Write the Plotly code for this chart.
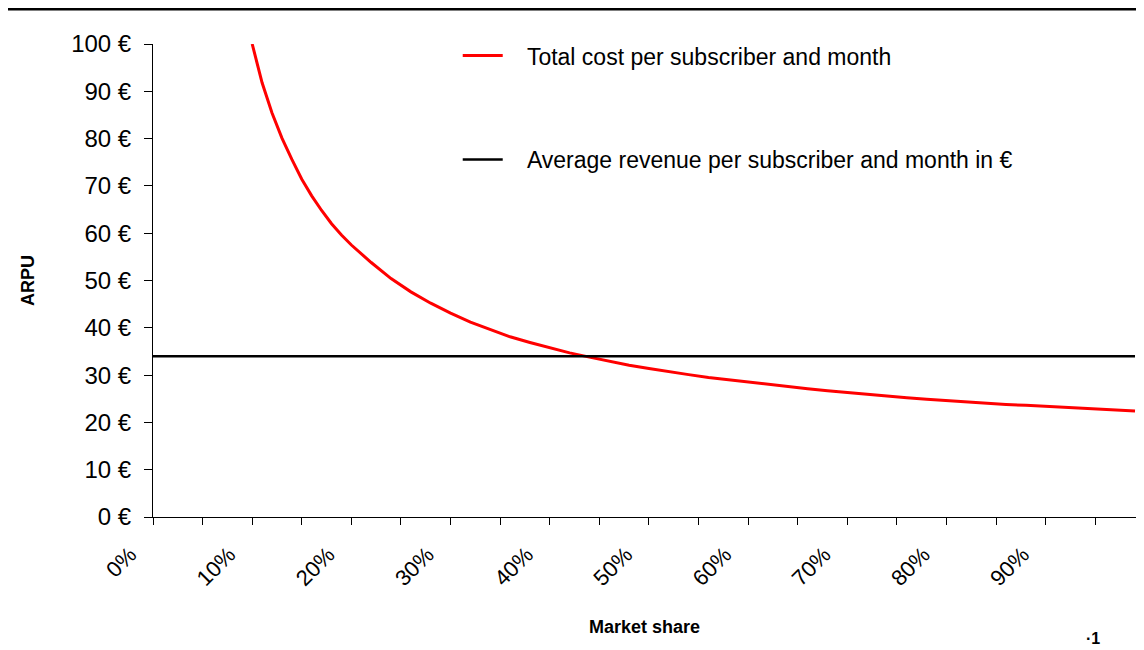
import plotly.graph_objects as go

# market share in %, cost per subscriber and month in EUR
share = [10, 11, 12, 13, 14, 15, 16, 17, 18, 19, 20, 22, 24, 26, 28, 30, 32, 34, 36, 38,
         40, 42, 44, 46, 48, 50, 52, 54, 56, 58, 60, 62, 64, 66, 68, 70, 72, 74, 76, 78,
         80, 82, 84, 86, 88, 90, 92, 94, 96, 98, 99]
cost = [100.0, 91.8, 85.4, 80.1, 75.6, 71.4, 67.9, 64.8, 62.0, 59.6, 57.5, 53.8, 50.4, 47.6,
        45.2, 43.1, 41.2, 39.6, 38.1, 36.9, 35.8, 34.7, 33.8, 32.9, 32.1, 31.4, 30.7, 30.1,
        29.5, 29.0, 28.5, 28.0, 27.6, 27.1, 26.7, 26.3, 25.9, 25.6, 25.2, 24.9, 24.6, 24.3,
        24.1, 23.8, 23.6, 23.4, 23.2, 23.0, 22.8, 22.5, 22.4]

arpu_share = [0, 99]
arpu = [34.0, 34.0]

x_ticks = [0, 10, 20, 30, 40, 50, 60, 70, 80, 90]
x_labels = ["0%", "10%", "20%", "30%", "40%", "50%", "60%", "70%", "80%", "90%"]
y_ticks = [0, 10, 20, 30, 40, 50, 60, 70, 80, 90, 100]
y_labels = ["0 €", "10 €", "20 €", "30 €", "40 €", "50 €", "60 €", "70 €", "80 €", "90 €", "100 €"]

font = "Liberation Sans, Arial, sans-serif"
gap = "\u00a0\u00a0\u00a0"  # wider space between legend line and text

fig = go.Figure()
fig.add_trace(go.Scatter(
    x=share, y=cost, mode="lines", name=gap + "Total cost per subscriber and month",
    line=dict(color="#ff0000", width=3), legendgroup="a"
))
fig.add_trace(go.Scatter(
    x=arpu_share, y=arpu, mode="lines", name=gap + "Average revenue per subscriber and month in €",
    line=dict(color="#000000", width=2.5), legendgroup="b"
))

# the page body adds an 8px offset, margins below make up for it
fig.update_layout(
    width=1144, height=650,
    margin=dict(l=145, r=16, t=36, b=141, autoexpand=False),
    paper_bgcolor="white", plot_bgcolor="white",
    font=dict(family=font, color="black"),
    showlegend=True,
    legend=dict(
        x=0.31, y=1.021, xanchor="left", yanchor="top",
        font=dict(size=23, family=font), tracegroupgap=71,
        bgcolor="rgba(0,0,0,0)", itemwidth=40
    ),
    xaxis=dict(
        range=[0, 99.1], tickvals=x_ticks, ticktext=x_labels,
        tickangle=-45, tickfont=dict(size=22),
        ticks="outside", ticklen=7, tickcolor="black",
        minor=dict(tickvals=list(range(0, 100, 5)), ticks="outside", ticklen=7, tickcolor="black"),
        ticklabelshift=-23, ticklabelstandoff=8,
        showline=True, linecolor="black", linewidth=1,
        showgrid=False, zeroline=False, automargin=False,
        title=dict(text="<b>Market share</b>", font=dict(size=18), standoff=30)
    ),
    yaxis=dict(
        range=[0, 100], tickvals=y_ticks, ticktext=y_labels,
        tickfont=dict(size=24), ticklabelstandoff=8,
        ticks="outside", ticklen=8, tickcolor="black",
        showline=True, linecolor="black", linewidth=1,
        showgrid=False, zeroline=False, automargin=False,
        title=dict(text="<b>ARPU</b>", font=dict(size=18), standoff=31)
    ),
)

# slide rule at the top
fig.add_shape(type="line", xref="paper", yref="paper",
              x0=-0.16, x1=1.02, y0=1.074, y1=1.074,
              line=dict(color="black", width=3))

fig.add_annotation(text="<b>·1</b>", xref="paper", yref="paper",
                   x=0.947, y=-0.279, showarrow=False, xanchor="left",
                   font=dict(size=16))

fig.write_html("out.html")
